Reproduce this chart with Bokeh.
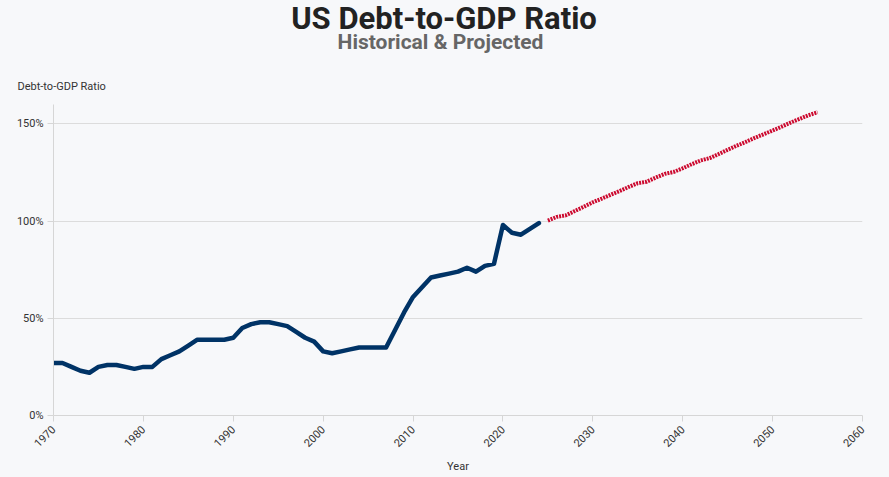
from math import pi

from bokeh.embed import file_html
from bokeh.layouts import column
from bokeh.models import CustomJSTickFormatter, FixedTicker, Label, Range1d, Title
from bokeh.plotting import figure
from bokeh.resources import INLINE

hist_years = list(range(1970, 2025))
hist_ratio = [27, 27, 25, 23, 22, 25, 26, 26, 25, 24,
              25, 25, 29, 31, 33, 36, 39, 39, 39, 39,
              40, 45, 47, 48, 48, 47, 46, 43, 40, 38,
              33, 32, 33, 34, 35, 35, 35, 35, 44, 53,
              61, 66, 71, 72, 73, 74, 76, 74, 77, 78,
              98, 94, 93, 96, 99]

proj_years = list(range(2025, 2056))
proj_ratio = [100.3, 102.2, 103.0, 105.2, 107.4, 109.7, 111.6, 113.6, 115.5, 117.6,
              119.5, 120.3, 122.4, 124.3, 125.3, 127.2, 129.3, 131.2, 132.4, 134.5,
              136.7, 138.8, 140.7, 142.8, 144.7, 146.6, 148.6, 150.7, 152.6, 154.5,
              156.0]

x_ticks = [1970, 1980, 1990, 2000, 2010, 2020, 2030, 2040, 2050, 2060]
y_ticks = [0, 50, 100, 150]

BG = "#f7f8fa"
FONT = "Roboto"
W = 889
HEAD_H = 68
LEFT, RIGHT = 53, 27

# header strip; x data = page pixels (frames of a column are aligned)
head = figure(width=W, height=HEAD_H, output_backend="svg", toolbar_location=None,
              title=None, x_range=Range1d(LEFT, W - RIGHT), y_range=Range1d(HEAD_H, 0),
              x_axis_location=None, y_axis_location=None, min_border=0,
              min_border_left=LEFT, min_border_right=RIGHT)
head.background_fill_color = BG
head.border_fill_color = BG
head.outline_line_color = None
head.grid.visible = False

head.add_layout(Label(x=443.5, y=18, text="US Debt-to-GDP Ratio",
                      text_font=FONT, text_font_size="31px", text_font_style="bold",
                      text_color="#222222", text_align="center",
                      text_baseline="alphabetic"))
head.add_layout(Label(x=440, y=41.5, text="Historical & Projected",
                      text_font=FONT, text_font_size="21px", text_font_style="bold",
                      text_color="#666666", text_align="center",
                      text_baseline="alphabetic"))

p = figure(width=W, height=477 - HEAD_H, output_backend="svg", toolbar_location=None,
           title=None, x_range=Range1d(1970, 2060), y_range=Range1d(0, 160),
           min_border_left=LEFT, min_border_right=RIGHT, min_border_top=30,
           min_border_bottom=62)
p.background_fill_color = BG
p.border_fill_color = BG
p.outline_line_color = None

p.add_layout(Title(text="Debt-to-GDP Ratio", align="left", offset=-36,
                   vertical_align="middle", standoff=21,
                   text_font=FONT, text_font_size="11px", text_font_style="normal",
                   text_color="#333333"), "above")

p.line(hist_years, hist_ratio, line_color="#003366", line_width=4.5,
       line_join="round", line_cap="round")
p.line(proj_years, proj_ratio, line_color="#cc0a2f", line_width=4,
       line_dash="2 1")

p.xaxis.ticker = FixedTicker(ticks=x_ticks)
p.yaxis.ticker = FixedTicker(ticks=y_ticks)
p.yaxis.formatter = CustomJSTickFormatter(code="return tick + '%'")
p.xaxis.major_label_orientation = pi / 4
p.xaxis.axis_label = "Year"

for ax in (p.xaxis, p.yaxis):
    ax.axis_line_color = "#d6d6d6"
    ax.major_tick_line_color = "#d6d6d6"
    ax.major_tick_out = 6
    ax.major_tick_in = 0
    ax.minor_tick_line_color = None
    ax.major_label_text_font = FONT
    ax.major_label_text_font_size = "11px"
    ax.major_label_text_color = "#333333"
    ax.axis_label_text_font = FONT
    ax.axis_label_text_font_size = "11px"
    ax.axis_label_text_font_style = "normal"
    ax.axis_label_text_color = "#333333"
p.xaxis.major_label_standoff = 6
p.xaxis.axis_label_standoff = 6
p.yaxis.major_label_standoff = 4

p.xgrid.grid_line_color = None
p.ygrid.grid_line_color = "#dcdcdc"

page = column(head, p, spacing=0, styles={"background-color": BG})
open("out.html", "w").write(file_html(page, INLINE))
